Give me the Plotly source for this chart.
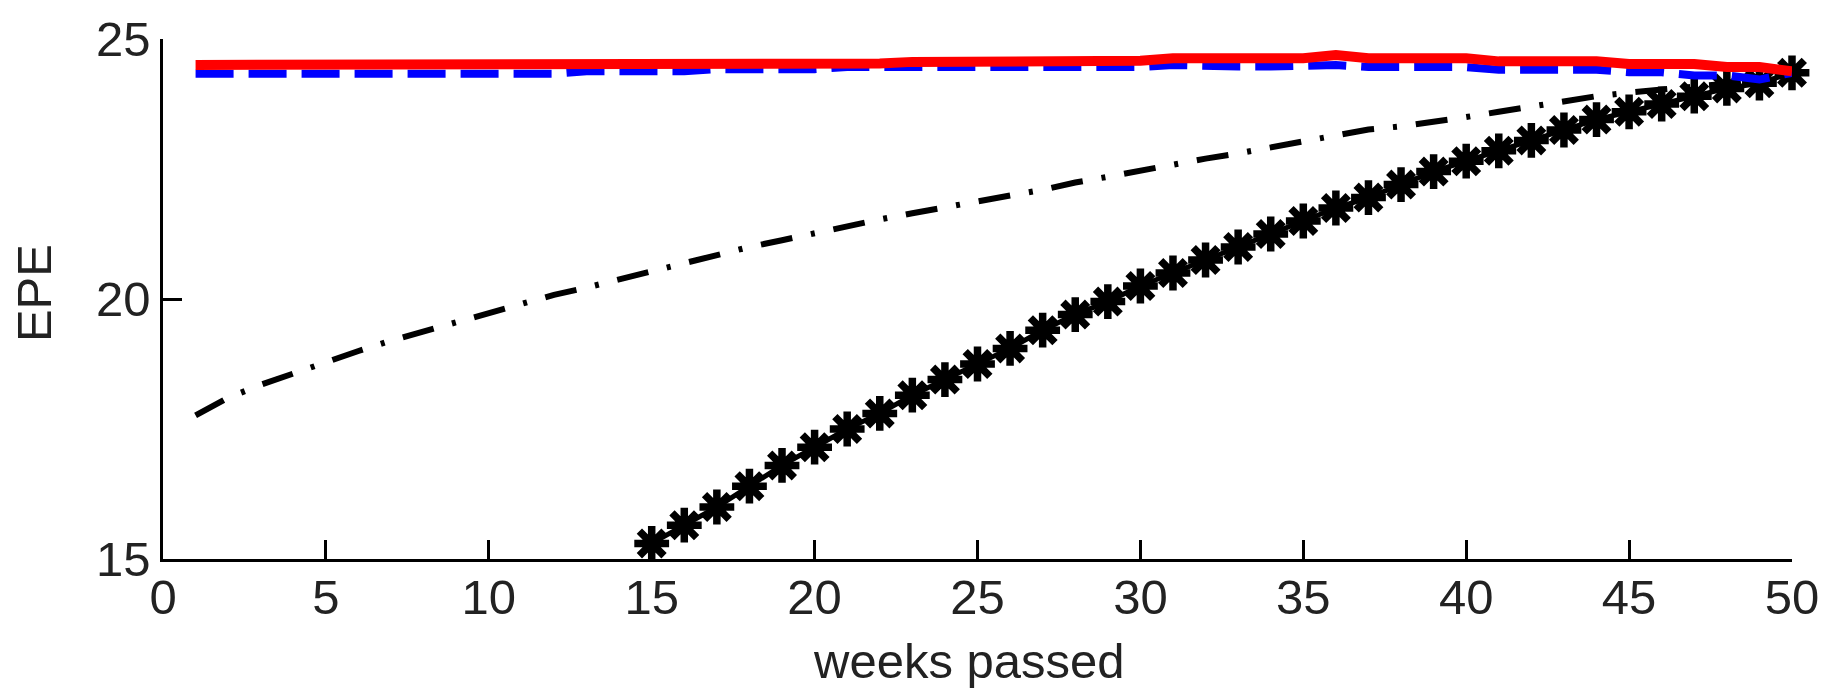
import plotly.graph_objects as go

# Expected prediction error (EPE) over the weeks of the season
weeks = list(range(1, 51))

epe_red = [24.50] * 14 + [24.53] * 8 + [24.56] * 4 + [24.60, 24.57, 24.60, 24.58] \
    + [24.63] * 5 + [24.69] + [24.63] * 4 + [24.57] * 4 + [24.52] * 3 + [24.46, 24.46, 24.38]

epe_blue = [24.33] * 12 + [24.38] * 4 + [24.42] * 4 + [24.46] * 10 + [24.50] \
    + [24.47] * 4 + [24.50] + [24.46] * 4 + [24.41] * 4 + [24.36, 24.36, 24.30, 24.30, 24.22, 24.35]

epe_dashdot = [17.76, 18.10, 18.35, 18.57, 18.80, 19.00, 19.20, 19.38, 19.56, 19.74,
               19.92, 20.08, 20.22, 20.38, 20.54, 20.70, 20.85, 21.00, 21.13, 21.27,
               21.40, 21.53, 21.65, 21.77, 21.87, 21.99, 22.10, 22.24, 22.35, 22.47,
               22.58, 22.70, 22.80, 22.92, 23.03, 23.15, 23.26, 23.32, 23.40, 23.50,
               23.60, 23.70, 23.82, 23.90, 23.97, 24.02, 24.08, 24.14, 24.22, 24.35]

star_weeks = list(range(15, 51))
epe_star = [15.30, 15.65, 16.00, 16.40, 16.80, 17.15, 17.50, 17.80, 18.15, 18.45,
            18.75, 19.05, 19.40, 19.70, 19.95, 20.25, 20.50, 20.75, 21.00, 21.25,
            21.50, 21.75, 21.95, 22.20, 22.45, 22.65, 22.85, 23.05, 23.25, 23.45,
            23.60, 23.75, 23.90, 24.05, 24.15, 24.35]

x_ticks = [0, 5, 10, 15, 20, 25, 30, 35, 40, 45, 50]
y_ticks = [15, 20, 25]

tick_font = dict(family="Liberation Sans, Arial, sans-serif", size=49, color="#222222")
title_font = dict(family="Liberation Sans, Arial, sans-serif", size=49, color="#222222")

fig = go.Figure()

fig.add_trace(go.Scatter(
    x=star_weeks, y=epe_star, mode="lines+markers",
    line=dict(color="black", width=5),
    marker=dict(symbol="asterisk-open", size=29, color="black",
                line=dict(color="black", width=7.5)),
    cliponaxis=False, showlegend=False))

fig.add_trace(go.Scatter(
    x=weeks, y=epe_dashdot, mode="lines",
    line=dict(color="black", width=6, dash="32px,19px,4px,19px"),
    cliponaxis=False, showlegend=False))

fig.add_trace(go.Scatter(
    x=weeks, y=epe_blue, mode="lines",
    line=dict(color="#0000ff", width=8, dash="38px,15px"),
    cliponaxis=False, showlegend=False))

fig.add_trace(go.Scatter(
    x=weeks, y=epe_red, mode="lines",
    line=dict(color="#ff0000", width=10),
    cliponaxis=False, showlegend=False))

axis_common = dict(
    showline=True, linecolor="black", linewidth=2.5, mirror=False,
    ticks="inside", ticklen=19, tickwidth=2.5, tickcolor="black",
    showgrid=False, zeroline=False, tickfont=tick_font,
)

fig.update_xaxes(range=[0, 50], tickvals=x_ticks, ticktext=[str(v) for v in x_ticks],
                 ticklabelstandoff=-7, **axis_common)
fig.update_yaxes(range=[15, 25], tickvals=y_ticks, ticktext=[str(v) for v in y_ticks],
                 ticklabelstandoff=0, **axis_common)

fig.add_annotation(text="weeks passed", xref="paper", yref="paper",
                   x=0.4945, y=-0.196, xanchor="center", yanchor="middle",
                   showarrow=False, font=title_font)
fig.add_annotation(text="EPE", xref="paper", yref="paper",
                   x=-0.0793, y=0.511, xanchor="center", yanchor="middle",
                   textangle=-90, showarrow=False, font=title_font)

fig.update_layout(
    width=1831, height=689,
    margin=dict(l=163, r=30, t=39, b=130),
    plot_bgcolor="white", paper_bgcolor="white",
)

fig.write_html("out.html")
